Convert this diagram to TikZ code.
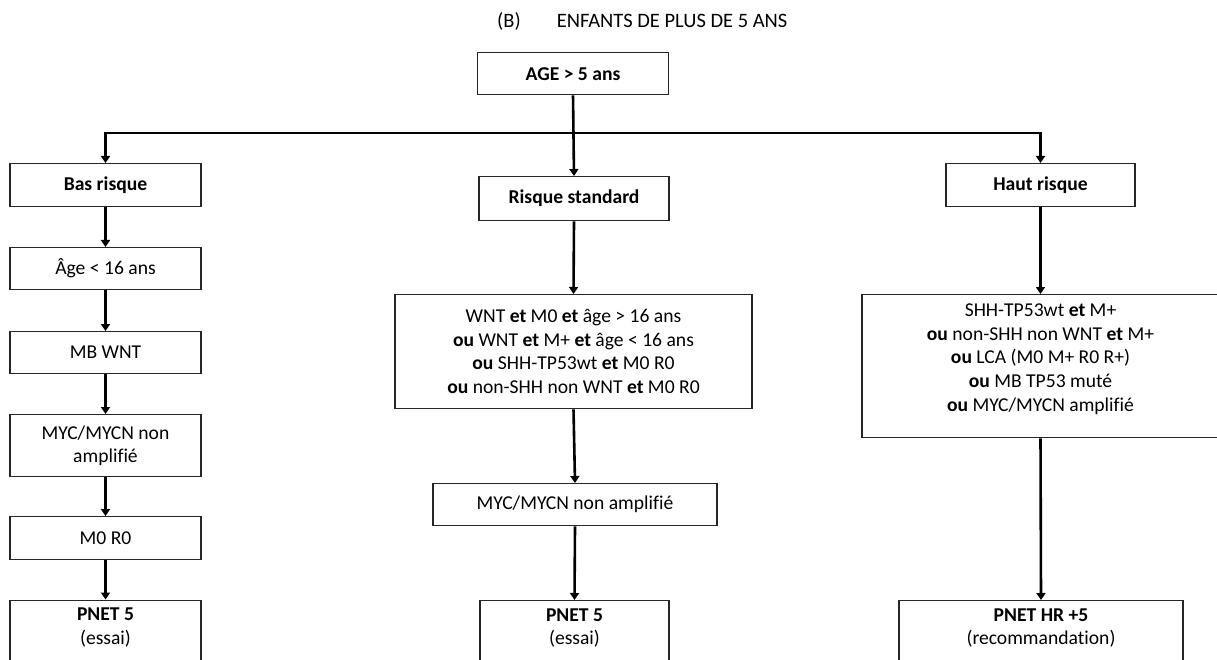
\documentclass[tikz,border=0pt]{standalone}
\usepackage{fontspec}
\setmainfont{Carlito}[Ligatures=NoCommon]
\usetikzlibrary{arrows.meta}
\begin{document}
\begin{tikzpicture}[x=1pt,y=-1pt,
  box/.style={draw=black!85, line width=1.3pt, inner sep=0pt, align=center,
    font=\fontsize{19.6}{23.6}\selectfont, anchor=north},
  leftbox/.style={box, minimum width=191pt},
  openbox/.style={box, inner ysep=8pt, text depth=60pt},
  arr/.style={line width=2.6pt, line join=miter,
    -{Triangle[width=9pt,length=7pt]}},
  heading/.style={font=\fontsize{20.5}{24}\selectfont, anchor=base west, inner sep=0pt}]
\useasboundingbox (0,0) rectangle (1217,660);
\clip (0,0) rectangle (1217,660);

% heading
\node[heading] (title) at (497,28) {(B)\hspace{36pt}ENFANTS DE PLUS DE 5 ANS};

% root and the three risk groups
\node[box, minimum width=191pt, minimum height=42pt] (age) at (573,52) {\textbf{AGE > 5 ans}};
\node[leftbox, minimum height=43pt] (bas) at (105.5,163) {\textbf{Bas risque}};
\node[box, minimum width=190pt, minimum height=44pt] (std) at (574,176) {\textbf{Risque standard}};
\node[box, minimum width=189pt, minimum height=43pt] (haut) at (1040.5,163) {\textbf{Haut risque}};

% low risk column
\node[leftbox, minimum height=42pt] (age16) at (105.5,247) {Âge < 16 ans};
\node[leftbox, minimum height=42pt] (wnt) at (105.5,331) {MB WNT};
\node[leftbox, minimum height=62pt] (mycL) at (105.5,414) {MYC/MYCN non\\amplifié};
\node[leftbox, minimum height=43pt] (m0r0) at (105.5,516) {M0 R0};
\node[openbox, minimum width=191pt] (pnetL) at (105.5,599.5) {\textbf{PNET 5}\\(essai)};

% standard risk column
\node[box, minimum width=357pt, minimum height=114pt] (critS) at (573.5,294)
  {WNT \textbf{et} M0 \textbf{et} âge > 16 ans\\
   \textbf{ou} WNT \textbf{et} M+ \textbf{et} âge < 16 ans\\
   \textbf{ou} SHH-TP53wt \textbf{et} M0 R0\\
   \textbf{ou} non-SHH non WNT \textbf{et} M0 R0};
\node[box, minimum width=284pt, minimum height=42pt] (mycS) at (575,483) {MYC/MYCN non amplifié};
\node[openbox, minimum width=189pt] (pnetS) at (574.5,600) {\textbf{PNET 5}\\(essai)};

% high risk column: text block sits a little above the box centre
\node[box, minimum width=357pt, minimum height=143pt] (critH) at (1040.5,294)
  {\raisebox{7pt}[\height][\depth]{\begin{tabular}{@{}c@{}}
   SHH-TP53wt \textbf{et} M+\\
   \textbf{ou} non-SHH non WNT \textbf{et} M+\\
   \textbf{ou} LCA (M0 M+ R0 R+)\\
   \textbf{ou} MB TP53 muté\\
   \textbf{ou} MYC/MYCN amplifié\end{tabular}}};
\node[openbox, minimum width=284pt] (pnetH) at (1041,600) {\textbf{PNET HR +5}\\(recommandation)};

% branching bus
\coordinate (busL) at (105.5,133);
\coordinate (busR) at (1040.5,133);
\draw[arr] (busR) -| (bas.north);
\draw[arr] (busL) -| (haut.north);
\draw[arr] (age.south) -- (std.north);

% vertical links
\draw[arr] (bas.south) -- (age16.north);
\draw[arr] (age16.south) -- (wnt.north);
\draw[arr] (wnt.south) -- (mycL.north);
\draw[arr] (mycL.south) -- (m0r0.north);
\draw[arr] (m0r0.south) -- (pnetL.north);
\draw[arr] (std.south) -- (critS.north);
\draw[arr] (critS.south) -- (mycS.north);
\draw[arr] (mycS.south) -- (pnetS.north);
\draw[arr] (haut.south) -- (critH.north);
\draw[arr] (critH.south) -- (pnetH.north);
\end{tikzpicture}
\end{document}
